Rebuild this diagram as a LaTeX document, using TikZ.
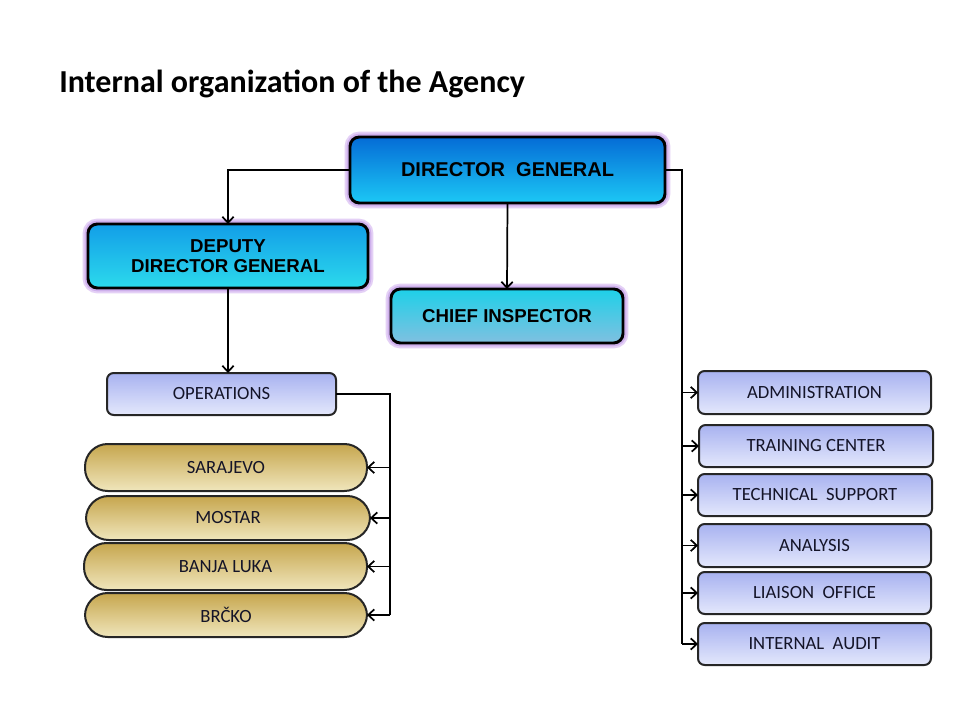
\documentclass[tikz,border=0pt]{standalone}
\usepackage{fontspec}
\setmainfont{Carlito}
\newfontfamily\arialb{Liberation Sans}
\usetikzlibrary{arrows.meta}
\definecolor{glow}{RGB}{228,208,246}
\definecolor{glowin}{RGB}{206,176,236}
\definecolor{dgtop}{RGB}{5,108,214}
\definecolor{dgbot}{RGB}{28,200,245}
\definecolor{ddgtop}{RGB}{18,158,232}
\definecolor{ddgbot}{RGB}{44,218,236}
\definecolor{citop}{RGB}{30,208,232}
\definecolor{cibot}{RGB}{128,192,224}
\definecolor{lavtop}{RGB}{168,178,240}
\definecolor{lavbot}{RGB}{228,232,252}
\definecolor{goldtop}{RGB}{198,166,78}
\definecolor{goldbot}{RGB}{240,230,188}
\definecolor{navytext}{RGB}{20,20,40}
\tikzset{
  wh/.style 2 args={minimum width=#1*0.75pt, minimum height=#2*0.75pt},
  topbox/.style={draw=black, line width=2.2pt, rounded corners=7pt, inner sep=0pt, outer sep=0pt,
    align=center, font=\arialb\bfseries\fontsize{14}{16}\selectfont,
    preaction={draw=glow, line width=8pt, rounded corners=7pt},
    preaction={draw=glowin, line width=5pt, rounded corners=7pt}},
  lavbox/.style={draw=black!85, line width=1.5pt, rounded corners=5pt, inner sep=0pt, outer sep=0pt,
    top color=lavtop, bottom color=lavbot, text=navytext, font=\fontsize{14}{16}\selectfont},
  pill/.style={draw=black!85, line width=1.5pt, rounded corners=17pt, inner sep=0pt, outer sep=0pt,
    top color=goldtop, bottom color=goldbot, text=navytext, font=\fontsize{14}{16}\selectfont},
  conn/.style={draw=black, line width=1.3pt, -{Straight Barb[length=4.5pt,width=8.5pt,line width=1.3pt]}},
  trunk/.style={draw=black, line width=1.3pt}
}
\begin{document}
\begin{tikzpicture}[x=0.75pt,y=-0.75pt]
\useasboundingbox (0,0) rectangle (960,720);
\fill[white] (0,0) rectangle (960,720);

\node[anchor=base west, font=\bfseries\fontsize{24}{28}\selectfont, inner sep=0pt] (title) at (59,93) {Internal organization of the Agency};

% top level
\node[topbox, wh={315}{66}, top color=dgtop, bottom color=dgbot, font=\arialb\bfseries\fontsize{15}{18}\selectfont] (dg) at (507.5,170) {DIRECTOR\ \ GENERAL};
\node[topbox, wh={280}{64}, top color=ddgtop, bottom color=ddgbot] (ddg) at (228,256) {DEPUTY\\[-1pt]DIRECTOR GENERAL};
\node[topbox, wh={232}{54}, top color=citop, bottom color=cibot] (ci) at (507,316) {CHIEF INSPECTOR};

% operations branch
\node[lavbox, wh={229}{42}] (ops) at (221.5,394) {OPERATIONS};
\node[pill, wh={282}{47}] (sar) at (226,467.5) {SARAJEVO};
\node[pill, wh={284}{44}] (mos) at (228,518) {MOSTAR};
\node[pill, wh={283}{47}] (ban) at (225.5,566.5) {BANJA LUKA};
\node[pill, wh={282}{44}] (brc) at (226,615) {BRČKO};

% right column
\node[lavbox, wh={233}{43}] (adm) at (814.5,392.5) {ADMINISTRATION};
\node[lavbox, wh={234}{42}] (trc) at (816,446) {TRAINING CENTER};
\node[lavbox, wh={234}{42}] (tec) at (815,495) {TECHNICAL\ \ SUPPORT};
\node[lavbox, wh={233}{43}] (ana) at (814.5,545.5) {ANALYSIS};
\node[lavbox, wh={233}{42}] (lia) at (814.5,593) {LIAISON\ \ OFFICE};
\node[lavbox, wh={233}{42}] (aud) at (814.5,644) {INTERNAL\ \ AUDIT};

% connectors
\draw[conn] (dg.west) -| (ddg.north);
\draw[conn] (dg.south) -- (ci.north);
\draw[conn] (ddg.south) -- (ddg.south |- ops.north);

\coordinate (rt) at (682,170);
\draw[trunk] (dg.east) -- (rt) -- (rt |- aud.west);
\foreach \b in {adm,trc,tec,ana,lia,aud}{
  \draw[conn] (rt |- \b.west) -- (\b.west);
}

\coordinate (lt) at (390,394);
\draw[trunk] (ops.east) -- (lt) -- (lt |- brc.east);
\foreach \b in {sar,mos,ban,brc}{
  \draw[conn] (lt |- \b.east) -- (\b.east);
}
\end{tikzpicture}
\end{document}
